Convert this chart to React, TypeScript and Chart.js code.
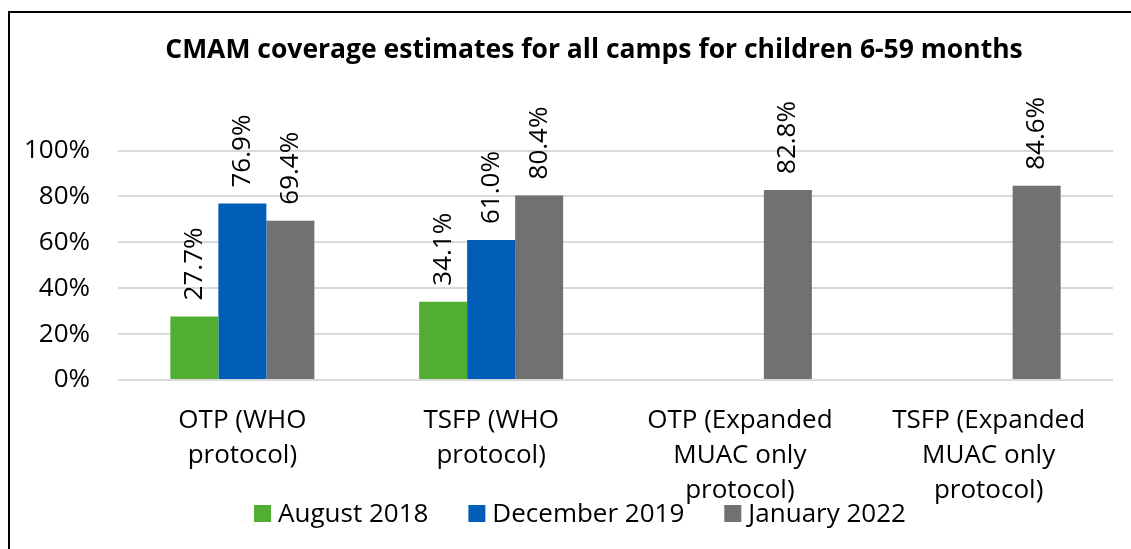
import React, { useEffect, useRef } from "react";
import { Chart, registerables } from "chart.js";

Chart.register(...registerables);

const titleText = "CMAM coverage estimates for all camps for children 6-59 months";
const categories: string[][] = [
  ["OTP (WHO", "protocol)"],
  ["TSFP (WHO", "protocol)"],
  ["OTP (Expanded", "MUAC only", "protocol)"],
  ["TSFP (Expanded", "MUAC only", "protocol)"],
];
const seriesNames = ["August 2018", "December 2019", "January 2022"];
const august2018: (number | null)[] = [0.277, 0.341, null, null];
const december2019: (number | null)[] = [0.769, 0.61, null, null];
const january2022: (number | null)[] = [0.694, 0.804, 0.828, 0.846];
const seriesColors = ["#52AE32", "#005EB8", "#717171"];
const yTicks = [0, 0.2, 0.4, 0.6, 0.8, 1];

const FONT = '"Open Sans", "Noto Sans", sans-serif';
const FS = 26;

const PAD_LEFT = 10;
const PAD_RIGHT = 18;

const titlePlugin = {
  id: "customTitle",
  afterDraw(chart: any) {
    const ctx = chart.ctx;
    ctx.save();
    ctx.font = `bold 26.5px ${FONT}`;
    ctx.fillStyle = "#000";
    ctx.textAlign = "center";
    ctx.textBaseline = "alphabetic";
    ctx.fillText(titleText, 594, 57.5);
    ctx.restore();
  },
};

const legendPlugin = {
  id: "customLegend",
  afterDraw(chart: any) {
    const ctx = chart.ctx;
    ctx.save();
    ctx.font = `${FS}px ${FONT}`;
    const box = 17;
    const textGap = 7;
    const itemGap = 40;
    const widths = seriesNames.map((n) => ctx.measureText(n).width);
    const total =
      widths.reduce((a, w) => a + box + textGap + w, 0) + itemGap * (seriesNames.length - 1);
    let x = 580 - total / 2;
    const cy = 513.5;
    seriesNames.forEach((name, i) => {
      ctx.fillStyle = seriesColors[i];
      ctx.fillRect(x, cy - box / 2, box, box);
      ctx.fillStyle = "#000";
      ctx.textAlign = "left";
      ctx.textBaseline = "alphabetic";
      ctx.fillText(name, x + box + textGap, 522);
      x += box + textGap + widths[i] + itemGap;
    });
    ctx.restore();
  },
};

const labelPlugin = {
  id: "barLabels",
  afterDatasetsDraw(chart: any) {
    const ctx = chart.ctx;
    ctx.save();
    ctx.font = `${FS}px ${FONT}`;
    ctx.fillStyle = "#000";
    chart.data.datasets.forEach((ds: any, i: number) => {
      const meta = chart.getDatasetMeta(i);
      meta.data.forEach((bar: any, j: number) => {
        const v = ds.data[j];
        if (v == null) return;
        ctx.save();
        ctx.translate(bar.x, bar.y - 16);
        ctx.rotate(-Math.PI / 2);
        ctx.textAlign = "left";
        ctx.textBaseline = "middle";
        ctx.fillText((v * 100).toFixed(1) + "%", 0, 0);
        ctx.restore();
      });
    });
    ctx.restore();
  },
};

export default function App() {
  const ref = useRef<HTMLCanvasElement | null>(null);
  useEffect(() => {
    document.documentElement.style.overflow = "hidden";
    const canvas = ref.current;
    if (!canvas) return;
    const data = [august2018, december2019, january2022];
    const chart = new Chart(canvas, {
      type: "bar",
      data: {
        labels: categories,
        datasets: seriesNames.map((name, i) => ({
          label: name,
          data: data[i],
          backgroundColor: seriesColors[i],
          borderWidth: 0,
          categoryPercentage: 0.579,
          barPercentage: 1,
        })),
      },
      options: {
        responsive: false,
        animation: false,
        layout: { padding: { left: PAD_LEFT, right: PAD_RIGHT, top: 150.5, bottom: 0 } },
        plugins: {
          title: { display: false },
          tooltip: { enabled: false },
          legend: { display: false },
        },
        scales: {
          x: {
            grid: { display: false },
            border: { display: false },
            ticks: {
              font: { family: FONT, size: FS, lineHeight: 1.346 },
              color: "#000",
              padding: 15,
              maxRotation: 0,
              autoSkip: false,
            },
            afterFit(scale: any) {
              scale.height = 169;
            },
          },
          y: {
            min: 0,
            max: 1,
            afterBuildTicks(scale: any) {
              scale.ticks = yTicks.map((v) => ({ value: v }));
            },
            grid: { color: "#d9d9d9", lineWidth: 2, drawTicks: false },
            border: { display: false },
            ticks: {
              font: { family: FONT, size: FS },
              color: "#000",
              padding: 28,
              callback: (v: any) => Math.round(Number(v) * 100) + "%",
            },
            afterFit(scale: any) {
              scale.width = 118 - PAD_LEFT;
            },
          },
        },
      },
      plugins: [titlePlugin, labelPlugin, legendPlugin],
    });
    return () => chart.destroy();
  }, []);
  return (
    <div>
      <div
        style={{
          position: "absolute",
          left: 8,
          top: 11,
          width: 1123,
          height: 538,
          boxSizing: "border-box",
          borderTop: "2px solid #000",
          borderLeft: "2px solid #000",
        }}
      />
      <canvas
        ref={ref}
        width={1131}
        height={549}
        style={{ position: "absolute", left: 0, top: 0, width: 1131, height: 549 }}
      />
    </div>
  );
}
